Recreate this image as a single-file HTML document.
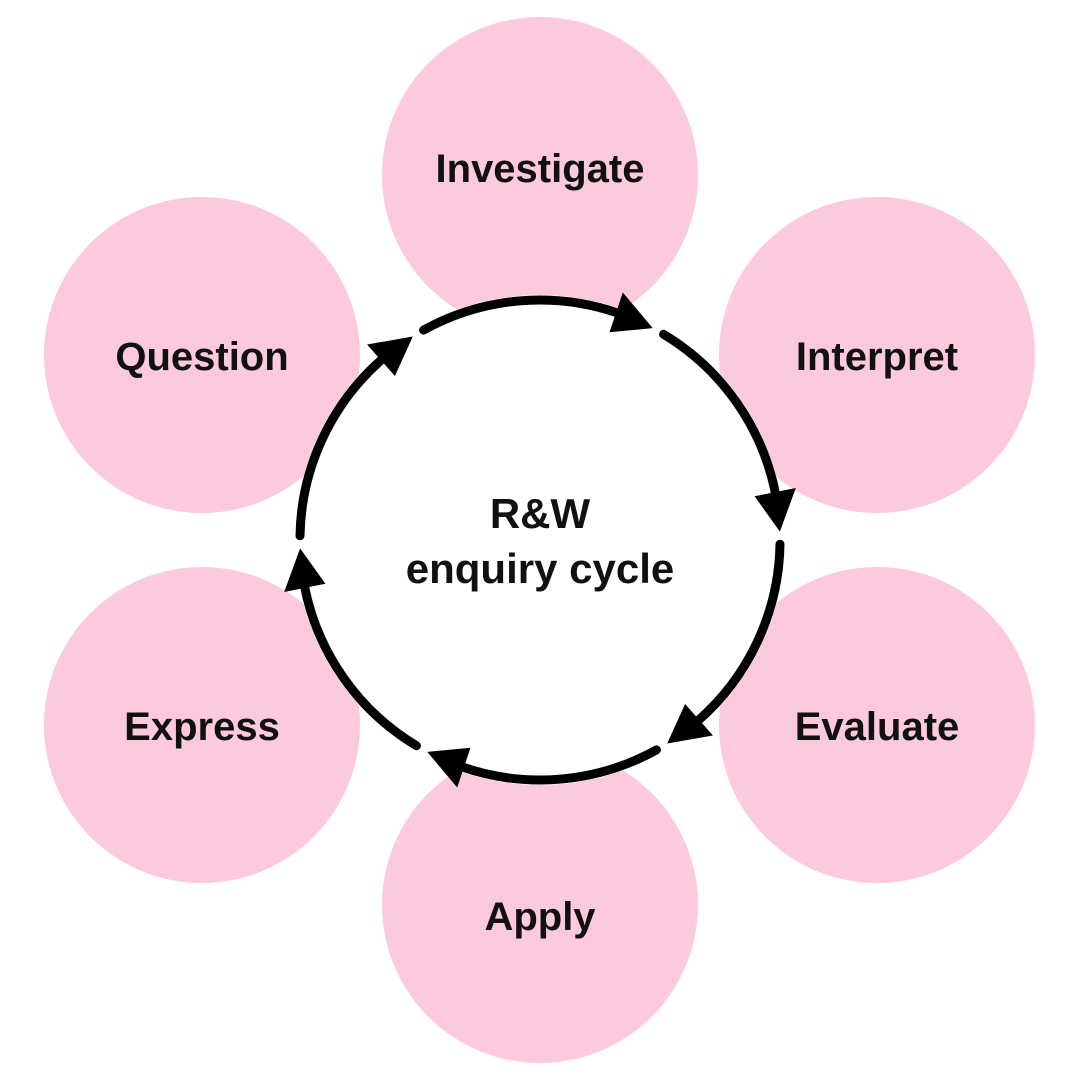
<!DOCTYPE html>
<html><head><meta charset="utf-8"><style>
html,body{margin:0;padding:0;background:#fff}
svg{display:block}
text{font-family:"Liberation Sans",sans-serif;font-weight:bold;fill:#111;text-anchor:middle}
</style></head><body>
<svg width="1080" height="1080" viewBox="0 0 1080 1080" xmlns="http://www.w3.org/2000/svg">
<rect width="1080" height="1080" fill="#fff"/>
<g fill="#fcc9de">
<circle cx="540" cy="175" r="158"/>
<circle cx="202" cy="355" r="158"/>
<circle cx="877" cy="355" r="158"/>
<circle cx="202" cy="725" r="158"/>
<circle cx="877" cy="725" r="158"/>
<circle cx="540" cy="905" r="158"/>
</g>
<circle cx="540" cy="540" r="245" fill="#fff"/>
<g fill="none" stroke="#000" stroke-width="9" stroke-linecap="round">
<path d="M423.6,330.1 A240,240 0 0 1 618.1,313.1"/>
<path d="M663.6,334.3 A240,240 0 0 1 775.6,494.2"/>
<path d="M780,544.2 A240,240 0 0 1 697.5,721.1"/>
<path d="M656.4,749.9 A240,240 0 0 1 461.9,766.9"/>
<path d="M416.4,745.7 A240,240 0 0 1 304.4,585.8"/>
<path d="M300,535.8 A240,240 0 0 1 382.5,358.9"/>
</g>
<g fill="#000">
<polygon points="652.7,328.1 622.8,292.5 609.5,332.3"/>
<polygon points="779.9,531.6 795.8,488.0 754.6,496.3"/>
<polygon points="667.2,743.5 712.9,735.5 685.1,704.0"/>
<polygon points="427.3,751.9 457.2,787.5 470.5,747.7"/>
<polygon points="300.1,548.4 284.2,592.0 325.4,583.7"/>
<polygon points="412.8,336.5 367.1,344.5 394.9,376.0"/>
</g>
<g font-size="40">
<text x="540" y="182">Investigate</text>
<text x="202" y="370">Question</text>
<text x="877" y="370">Interpret</text>
<text x="202" y="740">Express</text>
<text x="877" y="740">Evaluate</text>
<text x="540" y="930">Apply</text>
</g>
<g font-size="42">
<text x="540" y="528">R&amp;W</text>
<text x="540" y="583">enquiry cycle</text>
</g>
</svg>
</body></html>
